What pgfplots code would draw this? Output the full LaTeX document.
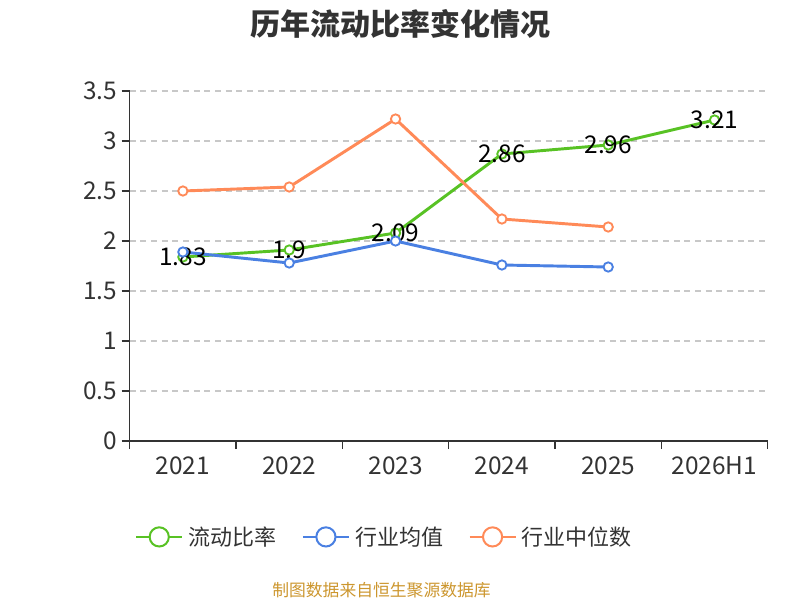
\documentclass[border=0pt]{standalone}
\usepackage{pgfplots}
\pgfplotsset{compat=1.18}
\usepackage{fontspec}
\setmainfont{Noto Sans CJK SC}
\definecolor{cgreen}{RGB}{88,194,36}
\definecolor{cblue}{RGB}{74,128,226}
\definecolor{corange}{RGB}{255,138,88}
\definecolor{ctext}{RGB}{51,51,51}
\definecolor{cfoot}{RGB}{204,150,46}
\definecolor{cgrid}{RGB}{200,200,200}
\begin{document}
\begin{tikzpicture}[x=0.75pt,y=0.75pt]
\path (0,0) rectangle (800,600);
\node[font=\fontsize{22.5pt}{26pt}\selectfont\bfseries, text=ctext] at (400,576) {历年流动比率变化情况};
\node[font=\fontsize{12.6pt}{15pt}\selectfont, text=cfoot] at (381.5,10) {制图数据来自恒生聚源数据库};
\begin{axis}[
  at={(122,159)}, anchor=south west,
  scale only axis, width=478.5pt, height=262.5pt,
  xmin=-0.5, xmax=5.5, ymin=0, ymax=3.5,
  axis x line=bottom, axis y line=left,
  axis line style={-, ctext, line width=0.9pt},
  xtick={0,...,5},
  xticklabels={2021,2022,2023,2024,2025,2026H1},
  major x tick style={draw=none},
  minor xtick={-0.5,0.5,...,5.5},
  minor x tick style={ctext, line width=0.9pt},
  minor tick length=6pt,
  ytick={0,0.5,...,3.5},
  major y tick style={ctext, line width=0.9pt},
  major tick length=6pt,
  tick align=outside,
  ymajorgrids,
  grid style={cgrid, dashed, dash pattern=on 4.5pt off 3.5pt, line width=0.9pt},
  ticklabel style={font=\fontsize{18.3pt}{21pt}\selectfont, text=ctext},
  xticklabel style={yshift=-2pt},
  /pgf/number format/assume math mode=true,
  clip=false,
  legend columns=-1,
  legend style={at={(0.400,-0.274)}, anchor=center, draw=none, fill=none,
    font=\fontsize{16.5pt}{19pt}\selectfont, text=ctext,
    /tikz/every even column/.append style={column sep=17pt},
    /tikz/every odd column/.append style={column sep=2pt}},
  legend image code/.code={
    \draw[line width=1.5pt, mark=none] (0pt,0pt) -- (34.5pt,0pt);
    \draw[line width=1.5pt, fill=white] (17.25pt,0pt) circle (7.2pt);
  },
]
\addplot[cgreen, line width=2.2pt, mark=*, mark size=3.5pt, mark options={fill=white, line width=1.4pt},
  nodes near coords, point meta=explicit symbolic,
  every node near coord/.style={anchor=center, text=black, font=\fontsize{18.3pt}{21pt}\selectfont}]
  coordinates {(0,1.84)[1.83] (1,1.91)[1.9] (2,2.08)[2.09] (3,2.87)[2.86] (4,2.96)[2.96] (5,3.21)[3.21]};
\addlegendentry{流动比率}
\addplot[cblue, line width=2.2pt, mark=*, mark size=3.5pt, mark options={fill=white, line width=1.4pt}]
  coordinates {(0,1.89) (1,1.78) (2,2.00) (3,1.76) (4,1.74)};
\addlegendentry{行业均值}
\addplot[corange, line width=2.2pt, mark=*, mark size=3.5pt, mark options={fill=white, line width=1.4pt}]
  coordinates {(0,2.50) (1,2.54) (2,3.22) (3,2.22) (4,2.14)};
\addlegendentry{行业中位数}
\end{axis}
\end{tikzpicture}
\end{document}
